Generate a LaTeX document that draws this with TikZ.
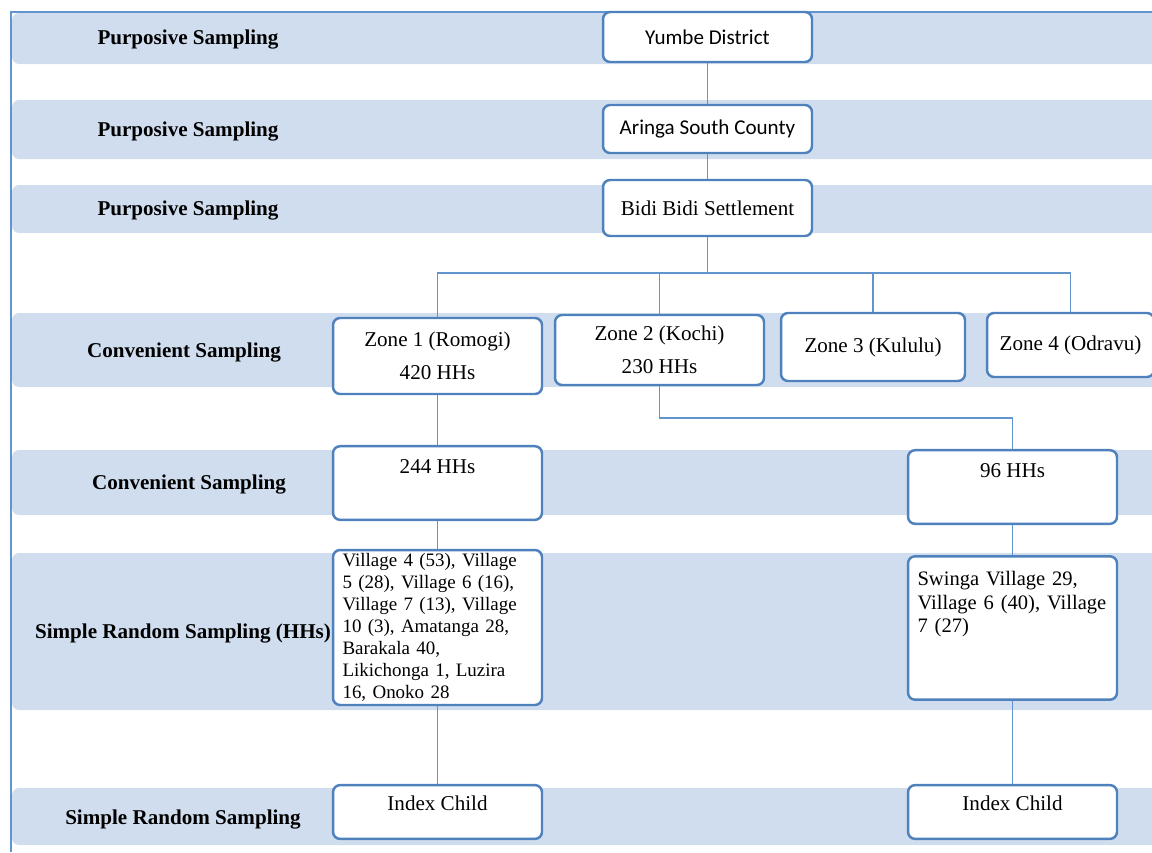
\documentclass[tikz,border=0pt]{standalone}
\usepackage{fontspec}
\setmainfont{Liberation Serif}
\newfontfamily\calibrifont{Carlito}
\definecolor{bandblue}{RGB}{208,221,238}
\definecolor{boxblue}{RGB}{79,129,189}
\definecolor{lineblue}{RGB}{98,148,206}

\begin{document}
\begin{tikzpicture}[x=0.02cm, y=-0.02cm,
  band/.style={fill=bandblue, rounded corners=4pt},
  stage/.style={font=\fontsize{12}{14}\selectfont\bfseries},
  box/.style={draw=boxblue, line width=1.4pt, rounded corners=4pt, fill=white,
    minimum width=4.18cm, font=\fontsize{12}{14}\selectfont, align=center},
  link/.style={draw=lineblue, line width=1.1pt}]
\useasboundingbox (0,0) rectangle (1152,852);
% Draw bands
\foreach \t/\b in {13/64,100/159,185/233,313/387,450/515,553/710,788/845}
    \fill[band] (12,\t) rectangle (1170,\b);
% Draw frame
\draw[lineblue, line width=1pt] (11,852) -- (11,12) -- (1152,12);
% Draw stage labels
\foreach \x/\y/\txt [count=\i] in {188/40/Purposive Sampling, 188/132/Purposive Sampling,
    188/211/Purposive Sampling, 184/353/Convenient Sampling, 189/485/Convenient Sampling,
    183/634/Simple Random Sampling (HHs), 183/819/Simple Random Sampling}
    \node[stage] (stage\i) at (\x,\y) {\txt};
% Draw boxes
\node[box, font=\fontsize{12}{14}\selectfont\calibrifont, minimum height=1cm] (yumbe) at (707.5,37) {Yumbe District};
\node[box, font=\fontsize{12}{14}\selectfont\calibrifont, minimum height=0.96cm] (aringa) at (707.5,129) {Aringa South County};
\node[box, minimum height=1.12cm] (bidi) at (707.5,208) {Bidi Bidi Settlement};
\node[box, minimum height=1.52cm] (zone1) at (437.5,356) {Zone 1 (Romogi)\\[5pt]420 HHs};
\node[box, minimum height=1.4cm] (zone2) at (659.5,350) {Zone 2 (Kochi)\\[5pt]230 HHs};
\node[box, minimum width=3.68cm, minimum height=1.36cm] (zone3) at (873,347) {Zone 3 (Kululu)};
\node[box, minimum width=3.34cm, minimum height=1.28cm] (zone4) at (1070.5,345) {Zone 4 (Odravu)};
\node[box, inner ysep=0pt, text height=15.3pt, text depth=26.6pt] (hh244) at (437.5,483) {244 HHs};
\node[box, inner ysep=0pt, text height=15.3pt, text depth=26.6pt] (hh96) at (1012.5,487) {96 HHs};
\node[box, inner ysep=0pt, minimum height=3.1cm, text width=3.8cm, align=left,
    font=\fontsize{10.8}{12.5}\selectfont] (vill1) at (437.5,627.5)
    {Village 4 (53), Village\\5 (28), Village 6 (16),\\Village 7 (13), Village\\10 (3), Amatanga 28,\\Barakala 40,\\Likichonga 1, Luzira\\16, Onoko 28};
\node[box, inner ysep=0pt, text height=16.4pt, text depth=65.2pt, text width=3.8cm, align=left,
    font=\fontsize{11.7}{13.6}\selectfont] (vill2) at (1012.5,628)
    {Swinga Village 29,\\Village 6 (40), Village\\7 (27)};
\node[box, inner ysep=0pt, text height=14.2pt, text depth=16.4pt] (child1) at (437.5,812) {Index Child};
\node[box, inner ysep=0pt, text height=14.2pt, text depth=16.4pt] (child2) at (1012.5,812) {Index Child};
% Draw connectors
\coordinate (bus) at (707.5,273);
\coordinate (split) at (659.5,418);
\draw[link] (yumbe) -- (aringa);
\draw[link] (aringa) -- (bidi);
\draw[link] (bidi) -- (bus);
\foreach \z in {zone1,zone2,zone3,zone4}
    \draw[link] (bus) -| (\z);
\draw[link] (zone1) -- (hh244);
\draw[link] (zone2) -- (split) -| (hh96);
\draw[link] (hh244) -- (vill1);
\draw[link] (vill1) -- (child1);
\draw[link] (hh96) -- (vill2);
\draw[link] (vill2) -- (child2);
\end{tikzpicture}
\end{document}
